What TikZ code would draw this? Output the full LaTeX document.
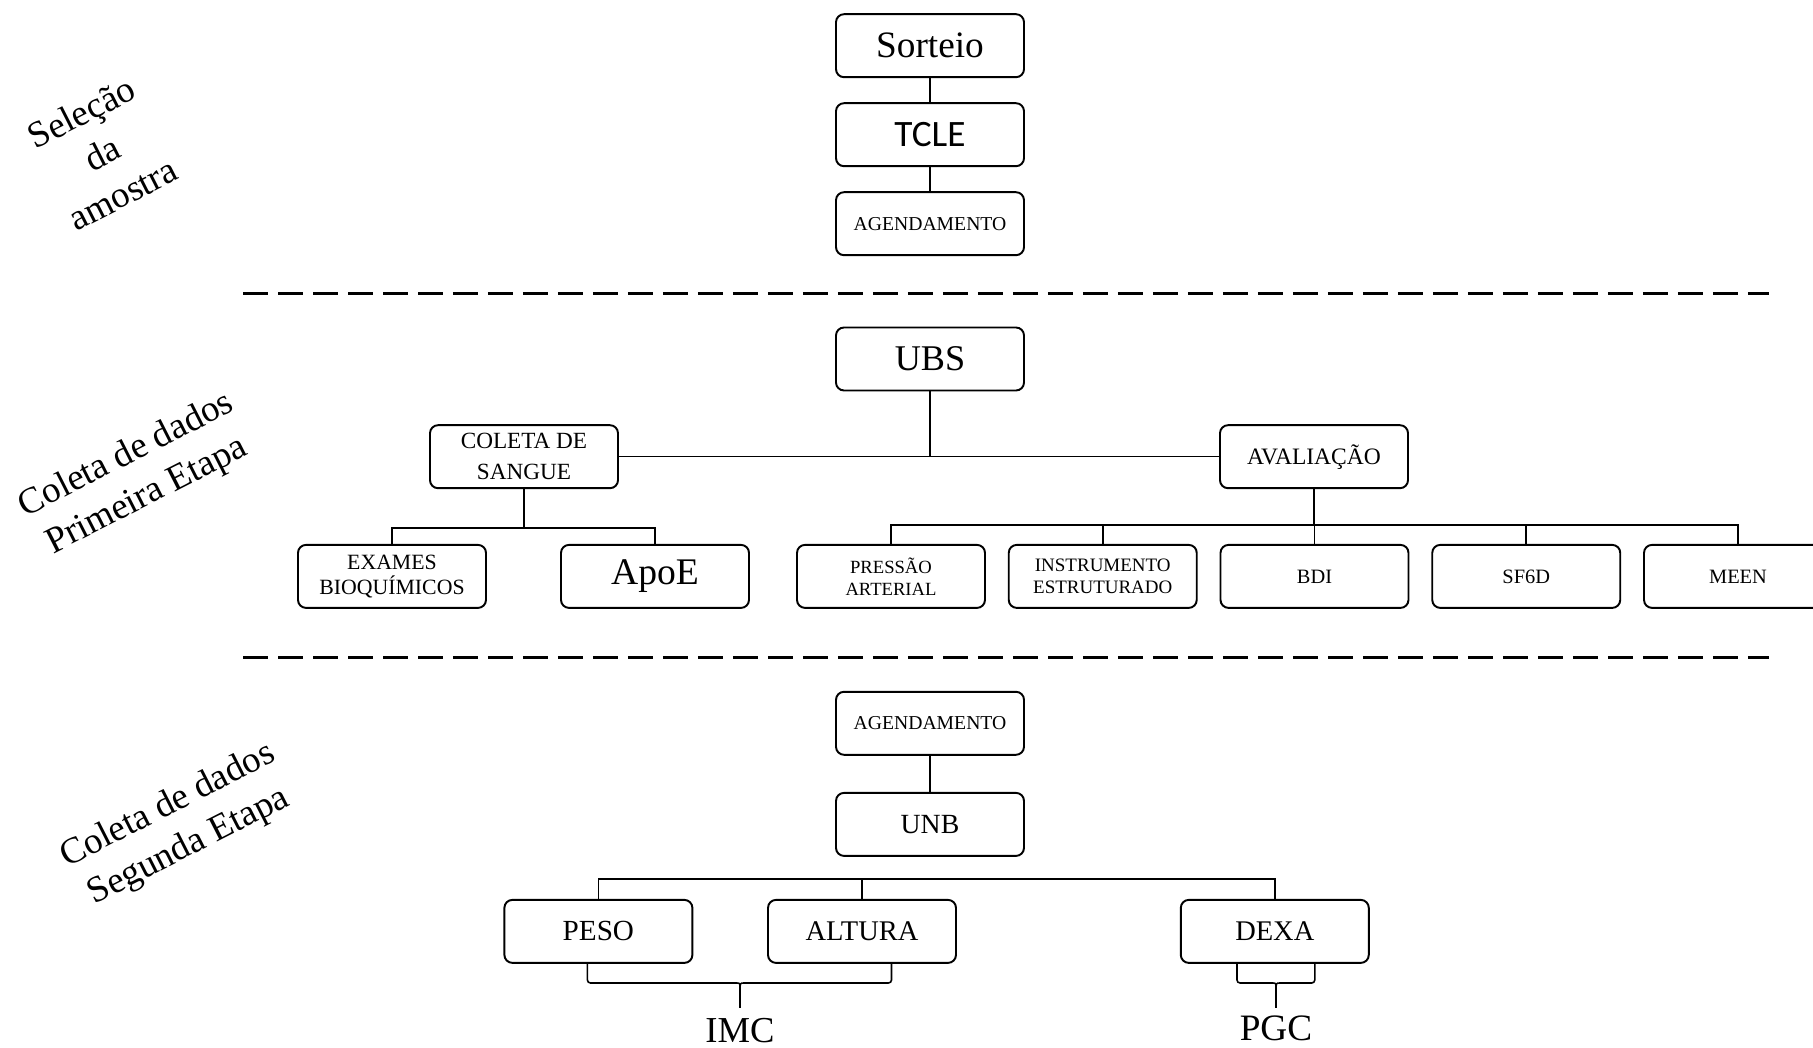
\documentclass[tikz,border=0pt]{standalone}
\usepackage{fontspec}
\setmainfont{Liberation Serif}
\newfontfamily\calibri{Carlito}
\usetikzlibrary{calc}

\begin{document}
\begin{tikzpicture}[x=0.1mm, y=-0.1mm]
        \tikzstyle{box} = [rectangle, draw, fill=white, line width=0.55pt, rounded corners=0.8mm,
          minimum width=18.8mm, minimum height=6.3mm, align=center, inner sep=1pt]
        \tikzstyle{side} = [align=center, rotate=27, font=\fontsize{10.5}{13}\selectfont]
        \tikzstyle{sep} = [line width=0.85pt, dash pattern=on 2.5mm off 1mm]
        \tikzstyle{wire} = [line width=0.45pt]

        \useasboundingbox (0,0) rectangle (1813,1048);

        % selecao da amostra
        \node[side] (sel) at (102,153) {Seleção\\da\\amostra};
        \node[box, font=\fontsize{10.6}{12}\selectfont] (sorteio) at (930,45.7) {Sorteio};
        \node[box, font=\calibri\fontsize{10.6}{12}\selectfont] (tcle) at (930,134.7) {TCLE};
        \node[box, font=\fontsize{5.6}{6.7}\selectfont] (agenda) at (930,223.7) {AGENDAMENTO};
        \draw[wire] (sorteio) -- (tcle) -- (agenda);

        \coordinate (sepa) at (243,293.7);
        \coordinate (sepb) at (1769,293.7);
        \draw[sep] (sepa) -- (sepb);

        % primeira etapa
        \node[side] (prim) at (137,476) {Coleta de dados\\Primeira Etapa};
        \node[box, font=\fontsize{10.3}{12}\selectfont] (ubs) at (930,359) {UBS};
        \node[box, font=\fontsize{6.6}{8.9}\selectfont] (coleta) at (524,456.7) {COLETA DE\\SANGUE};
        \node[box, font=\fontsize{6.7}{8}\selectfont] (avaliacao) at (1314,456.7) {AVALIAÇÃO};
        \draw[wire] (coleta.east) -- (avaliacao.west);
        \draw[wire] (ubs.south) -- (ubs.south |- coleta.east);

        \node[box, font=\fontsize{6.2}{7.2}\selectfont] (exames) at (392,576.4) {EXAMES\\BIOQUÍMICOS};
        \node[box, font=\fontsize{10.7}{12}\selectfont] (apoe) at (655,576.4) {ApoE};
        \coordinate (busA) at (0,528);
        \draw[wire] (exames.north) |- (apoe.north |- busA) -- (apoe.north);
        \draw[wire] (coleta.south) -- (coleta.south |- busA);

        \foreach \name/\fsz/\txt [count=\i] in {pressao/5.3/{PRESSÃO\\ARTERIAL},
            instr/5.4/{INSTRUMENTO\\ESTRUTURADO}, bdi/5.8/BDI, sf6d/5.8/SF6D, meen/5.8/MEEN}
          \node[box, font=\fontsize{\fsz}{6.3}\selectfont] (\name) at ({891+211.75*(\i-1)},576.4) {\txt};
        \coordinate (busB) at (0,525);
        \draw[wire] (pressao.north) |- (meen.north |- busB) -- (meen.north);
        \foreach \name in {instr, bdi, sf6d}
          \draw[wire] (\name.north) -- (\name.north |- busB);
        \draw[wire] (avaliacao.south) -- (avaliacao.south |- busB);

        \coordinate (sepc) at (243,658);
        \coordinate (sepd) at (1769,658);
        \draw[sep] (sepc) -- (sepd);

        % segunda etapa
        \node[side] (seg) at (178.5,826.5) {Coleta de dados\\Segunda Etapa};
        \node[box, font=\fontsize{5.6}{6.7}\selectfont] (agenda2) at (930,723.3) {AGENDAMENTO};
        \node[box, font=\fontsize{7.9}{9}\selectfont] (unb) at (930,824.4) {UNB};
        \draw[wire] (agenda2) -- (unb);

        \node[box, font=\fontsize{8.3}{9}\selectfont] (peso) at (598.4,931.4) {PESO};
        \node[box, font=\fontsize{8.1}{9}\selectfont] (altura) at (862,931.4) {ALTURA};
        \node[box, font=\fontsize{8.1}{9}\selectfont] (dexa) at (1274.8,931.4) {DEXA};
        \coordinate (busC) at (0,878.8);
        \draw[wire] (peso.north) |- (dexa.north |- busC) -- (dexa.north);
        \draw[wire] (altura.north) -- (altura.north |- busC);

        % chaves
        \node[font=\fontsize{10.4}{12}\selectfont] (imc) at (740,1030.5) {IMC};
        \node[font=\fontsize{10.6}{12}\selectfont] (pgc) at (1276,1028.5) {PGC};
        \coordinate (imcbar) at (740,983);
        \coordinate (imctip) at (740,1008);
        \coordinate (pgcbar) at (1276,983);
        \coordinate (pgctip) at (1276,1008);
        \draw[wire, rounded corners=0.3mm] ($(peso.south)+(-11,0)$) |- ($(imcbar)+(-7,0)$)
          .. controls (imcbar) .. ($(imcbar)+(0,8)$) -- (imctip);
        \draw[wire, rounded corners=0.3mm] ($(altura.south)+(29.5,0)$) |- ($(imcbar)+(7,0)$)
          .. controls (imcbar) .. ($(imcbar)+(0,8)$);
        \draw[wire, rounded corners=0.3mm] ($(dexa.south)+(-37.8,0)$) |- ($(pgcbar)+(-7,0)$)
          .. controls (pgcbar) .. ($(pgcbar)+(0,8)$) -- (pgctip);
        \draw[wire, rounded corners=0.3mm] ($(dexa.south)+(40,0)$) |- ($(pgcbar)+(7,0)$)
          .. controls (pgcbar) .. ($(pgcbar)+(0,8)$);
\end{tikzpicture}
\end{document}
